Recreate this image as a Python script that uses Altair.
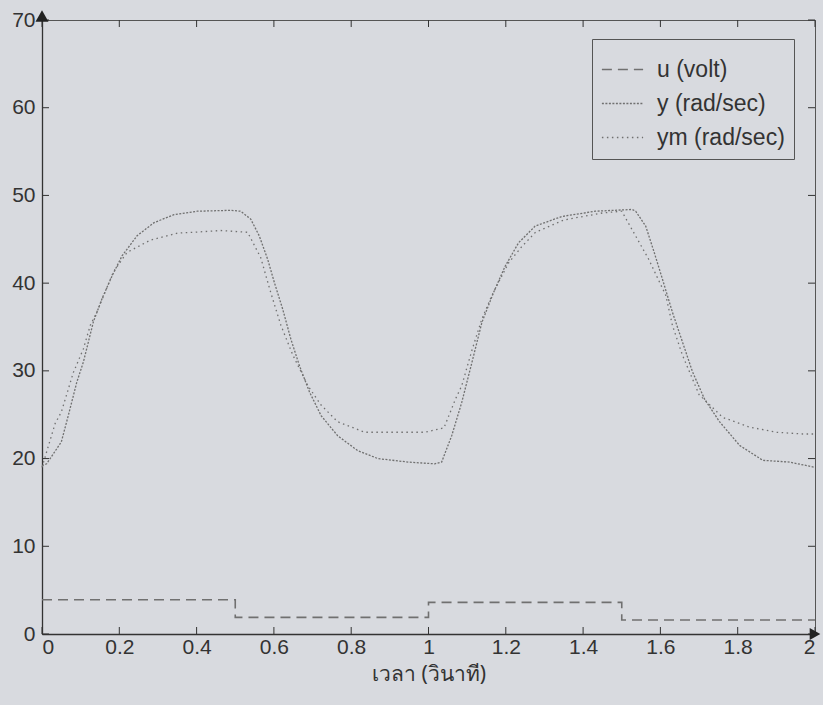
import altair as alt
import pandas as pd

# ---- data ----
t_y = [0.0, 0.012, 0.05, 0.068, 0.09, 0.107, 0.133, 0.155, 0.181, 0.207, 0.246, 0.29, 0.341, 0.402, 0.488,
       0.514, 0.54, 0.562, 0.584, 0.601, 0.623, 0.644, 0.666, 0.692, 0.722, 0.765, 0.817, 0.869, 0.947, 1.016,
       1.034, 1.06, 1.086, 1.112, 1.138, 1.168, 1.198, 1.233, 1.276, 1.345, 1.432, 1.527,
       1.536, 1.562, 1.584, 1.605, 1.631, 1.657, 1.683, 1.714, 1.753, 1.805, 1.865, 1.934, 2.0]
v_y = [19.2, 19.4, 21.9, 24.9, 28.7, 31.0, 35.6, 38.2, 40.8, 43.1, 45.4, 46.9, 47.8, 48.2, 48.3,
       48.2, 47.3, 45.4, 42.7, 40.1, 37.0, 33.6, 30.6, 27.6, 24.9, 22.6, 20.9, 20.0, 19.6, 19.4,
       19.6, 22.6, 26.4, 30.9, 35.5, 38.9, 41.9, 44.6, 46.5, 47.6, 48.2, 48.4,
       48.2, 46.5, 43.5, 40.5, 36.7, 33.3, 29.9, 26.8, 24.2, 21.5, 19.8, 19.6, 19.0]

t_ym = [0.0, 0.034, 0.05, 0.081, 0.107, 0.125, 0.142, 0.185, 0.22, 0.28, 0.35, 0.393, 0.462,
        0.532, 0.566, 0.592, 0.618, 0.649, 0.688, 0.722, 0.765, 0.835, 0.913, 0.99,
        1.04, 1.07, 1.086, 1.112, 1.138, 1.164, 1.207, 1.242, 1.277, 1.35, 1.45, 1.5,
        1.57, 1.614, 1.631, 1.657, 1.7, 1.761, 1.83, 1.9, 1.969, 2.0]
v_ym = [19.0, 24.0, 25.3, 29.8, 32.5, 35.2, 36.7, 41.3, 43.5, 44.9, 45.7, 45.8, 46.0,
        45.8, 42.9, 38.9, 35.2, 31.8, 28.3, 26.1, 24.2, 23.0, 23.0, 23.0,
        23.5, 26.8, 28.3, 32.3, 35.9, 38.6, 42.3, 44.2, 45.8, 47.2, 48.0, 48.2,
        42.7, 38.6, 35.2, 31.8, 27.3, 24.7, 23.6, 23.0, 22.8, 22.8]

t_u = [0.0, 0.5, 1.0, 1.5, 2.0]
v_u = [3.9, 1.9, 3.6, 1.6, 1.6]

series_names = ["u (volt)", "y (rad/sec)", "ym (rad/sec)"]
x_ticks = [0, 0.2, 0.4, 0.6, 0.8, 1.0, 1.2, 1.4, 1.6, 1.8, 2.0]
y_ticks = [0, 10, 20, 30, 40, 50, 60, 70]

x_title = "เวลา (วินาที)"

# ---- styling ----
BG = "#d8dadf"
INK = "#333333"
LINE = "#707070"
W, H = 773, 614

df_u = pd.DataFrame({"t": t_u, "v": v_u, "s": series_names[0]})
df_c = pd.concat([
    pd.DataFrame({"t": t_y, "v": v_y, "s": series_names[1]}),
    pd.DataFrame({"t": t_ym, "v": v_ym, "s": series_names[2]}),
])

xs = alt.Scale(domain=[x_ticks[0], x_ticks[-1]], nice=False, zero=False)
ys = alt.Scale(domain=[y_ticks[0], y_ticks[-1]], nice=False, zero=False)
dash = alt.StrokeDash(
    "s:N",
    scale=alt.Scale(domain=series_names, range=[[10, 6], [2, 1.5], [1.5, 3.5]]),
    legend=alt.Legend(title=None),
)

xaxis = alt.Axis(values=x_ticks, format="~g", title=x_title, grid=False, tickSize=0,
                 labelPadding=2, titlePadding=6, titleFontSize=21, titleFontWeight="normal",
                 titleFont="Noto Sans", titleColor=INK)
yaxis = alt.Axis(values=y_ticks, format="~g", title=None, grid=False, tickSize=0, labelPadding=7)

u_line = alt.Chart(df_u).mark_line(interpolate="step-after", color=LINE, strokeWidth=1.6).encode(
    x=alt.X("t:Q", scale=xs, axis=xaxis),
    y=alt.Y("v:Q", scale=ys, axis=yaxis),
    strokeDash=dash,
)
curves = alt.Chart(df_c).mark_line(color=LINE, strokeWidth=1.3).encode(
    x=alt.X("t:Q", scale=xs),
    y=alt.Y("v:Q", scale=ys),
    strokeDash=dash,
    detail="s:N",
)

# inward tick marks on all four sides
xt = pd.DataFrame({"t": x_ticks})
yt = pd.DataFrame({"v": y_ticks})
tick_b = alt.Chart(xt).mark_rule(color=INK).encode(x=alt.X("t:Q", scale=xs), y=alt.value(H), y2=alt.value(H - 7))
tick_t = alt.Chart(xt).mark_rule(color=INK).encode(x=alt.X("t:Q", scale=xs), y=alt.value(0), y2=alt.value(7))
tick_l = alt.Chart(yt).mark_rule(color=INK).encode(y=alt.Y("v:Q", scale=ys), x=alt.value(0), x2=alt.value(7))
tick_r = alt.Chart(yt).mark_rule(color=INK).encode(y=alt.Y("v:Q", scale=ys), x=alt.value(W), x2=alt.value(W - 7))

# axis arrows at the ends of the axes
arrow_y = alt.Chart(pd.DataFrame({"t": [x_ticks[0]], "v": [y_ticks[-1]]})).mark_point(
    shape="triangle-up", filled=True, color="#222", size=170, opacity=1, yOffset=-4
).encode(x=alt.X("t:Q", scale=xs), y=alt.Y("v:Q", scale=ys))
arrow_x = alt.Chart(pd.DataFrame({"t": [x_ticks[-1]], "v": [y_ticks[0]]})).mark_point(
    shape="triangle-right", filled=True, color="#222", size=150, opacity=1, xOffset=0
).encode(x=alt.X("t:Q", scale=xs), y=alt.Y("v:Q", scale=ys))

chart = alt.layer(u_line, curves, tick_b, tick_t, tick_l, tick_r, arrow_y, arrow_x).properties(
    width=W, height=H,
    autosize=alt.AutoSizeParams(type="none"),
    padding={"left": 42, "top": 20, "right": 8, "bottom": 71},
    background=BG,
).configure_view(
    stroke="#555", strokeWidth=1, fill=BG,
).configure_axis(
    labelFont="Liberation Sans", labelFontSize=21, labelColor=INK,
    domainColor="#333", domainWidth=1.3,
).configure_legend(
    orient="none", legendX=550, legendY=19,
    strokeColor="#555", fillColor=BG, padding=9,
    labelFont="Liberation Sans", labelFontSize=23, labelColor=INK,
    symbolType="stroke", symbolSize=1700, symbolStrokeColor=LINE, symbolStrokeWidth=1.5,
    rowPadding=-3, labelOffset=13, labelLimit=300,
)

chart.save("out.html", embed_options={"renderer": "svg", "actions": False})
